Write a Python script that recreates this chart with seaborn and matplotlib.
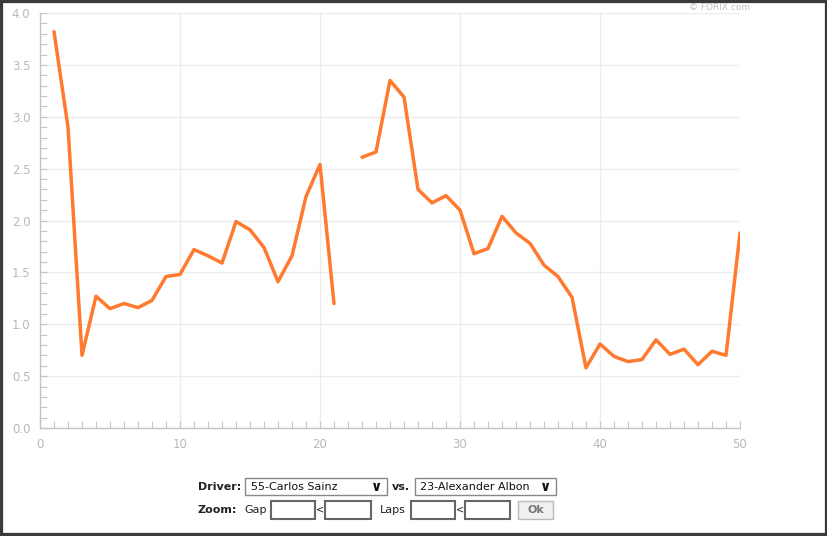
import numpy as np
import pandas as pd
import matplotlib
matplotlib.use("Agg")
import matplotlib.pyplot as plt
from matplotlib.patches import Rectangle
from matplotlib.ticker import MultipleLocator
import seaborn as sns

# ================= DATA =================
laps = list(range(1, 51))
gap = [3.82, 2.90, 0.70, 1.27, 1.15, 1.20, 1.16, 1.23, 1.46, 1.48,
       1.72, 1.66, 1.59, 1.99, 1.91, 1.74, 1.41, 1.66, 2.23, 2.54,
       1.20, np.nan, 2.61, 2.66, 3.35, 3.19, 2.30, 2.17, 2.24, 2.10,
       1.68, 1.73, 2.04, 1.88, 1.78, 1.57, 1.46, 1.26, 0.58, 0.81,
       0.69, 0.64, 0.66, 0.85, 0.71, 0.76, 0.61, 0.74, 0.70, 1.88]
x_ticks = [0, 10, 20, 30, 40, 50]
y_ticks = [0.0, 0.5, 1.0, 1.5, 2.0, 2.5, 3.0, 3.5, 4.0]
driver_a = "55-Carlos Sainz"
driver_b = "23-Alexander Albon"

df = pd.DataFrame({"lap": laps, "gap": gap})
# split at the missing lap so the line is broken there
df["segment"] = df["gap"].isna().cumsum()
df = df.dropna()

# ================= FIGURE =================
sns.set_style("white")
plt.rcParams["font.family"] = ["DejaVu Sans"]

W, H = 828, 536
fig = plt.figure(figsize=(W / 100, H / 100), dpi=100)
ax = fig.add_axes([40 / W, (H - 428) / H, 700 / W, 415 / H])

LINE = "#ff7a2e"
for seg, sub in df.groupby("segment"):
    sns.lineplot(data=sub, x="lap", y="gap", ax=ax, color=LINE,
                 linewidth=2.5, estimator=None, sort=False)

ax.set_xlim(0, 50)
ax.set_ylim(0, 4.0)
ax.set_xticks(x_ticks)
ax.set_yticks(y_ticks)
ax.set_yticklabels([f"{v:.1f}" for v in y_ticks])
ax.xaxis.set_minor_locator(MultipleLocator(1))
ax.yaxis.set_minor_locator(MultipleLocator(0.1))
ax.set_xlabel("")
ax.set_ylabel("")
ax.grid(True, which="major", color="#ececec", linewidth=1.0)
ax.set_axisbelow(True)

for s in ["top", "right"]:
    ax.spines[s].set_visible(False)
for s in ["left", "bottom"]:
    ax.spines[s].set_color("#c4c4c4")
    ax.spines[s].set_linewidth(1.0)

ax.tick_params(which="both", direction="in", bottom=True, left=True,
               color="#c4c4c4", labelcolor="#b8b8b8", labelsize=8.5)
ax.tick_params(which="major", length=5, width=0.8, pad=7)
ax.tick_params(which="minor", length=5, width=0.8)

# ================= WATERMARK =================
fig.text(720 / W, 1 - 7 / H, "\u00a9 FORIX.com", ha="center", va="center",
         fontsize=6.5, color="#c0c0c0")

# ================= CONTROLS =================
def px(x, y):
    return x / W, 1 - y / H

def box(x0, y0, x1, y1, ec="#666666", fc="white", lw=1.5):
    xa, ya = px(x0, y1)
    fig.patches.append(Rectangle((xa, ya), (x1 - x0) / W, (y1 - y0) / H,
                                 transform=fig.transFigure, ec=ec, fc=fc, lw=lw))

fs = 8.0
fig.text(*px(198, 487), "Driver:", fontsize=fs, fontweight="bold", va="center", ha="left", color="#222")
box(245, 478, 387, 495, ec="#888888", lw=1.0)
fig.text(*px(251, 487), driver_a, fontsize=fs, va="center", ha="left", color="#111")
fig.text(*px(377, 487), "\u2228", fontsize=10, fontweight="bold", va="center", ha="center", color="#111")
fig.text(*px(392, 487), "vs.", fontsize=fs, fontweight="bold", va="center", ha="left", color="#222")
box(415, 478, 556, 495, ec="#888888", lw=1.0)
fig.text(*px(420, 487), driver_b, fontsize=fs, va="center", ha="left", color="#111")
fig.text(*px(546, 487), "\u2228", fontsize=10, fontweight="bold", va="center", ha="center", color="#111")

fig.text(*px(198, 510), "Zoom:", fontsize=fs, fontweight="bold", va="center", ha="left", color="#222")
fig.text(*px(244, 510), "Gap", fontsize=fs, va="center", ha="left", color="#222")
box(271, 501, 315, 519)
fig.text(*px(320, 510), "<", fontsize=7, va="center", ha="center", color="#222")
box(325, 501, 371, 519)
fig.text(*px(380, 510), "Laps", fontsize=fs, va="center", ha="left", color="#222")
box(411, 501, 455, 519)
fig.text(*px(460, 510), "<", fontsize=7, va="center", ha="center", color="#222")
box(465, 501, 510, 519)
box(518, 501, 553, 519, ec="#bbbbbb", fc="#f0f0f0", lw=1.0)
fig.text(*px(535.5, 510), "Ok", fontsize=fs, fontweight="bold", va="center", ha="center", color="#777")

# ================= FRAME =================
fig.patches.append(Rectangle((0, 0), 1, 1, transform=fig.transFigure,
                             ec="#3a3a3a", fc="none", lw=4.5))

fig.savefig("out.png", dpi=100)
plt.close(fig)
